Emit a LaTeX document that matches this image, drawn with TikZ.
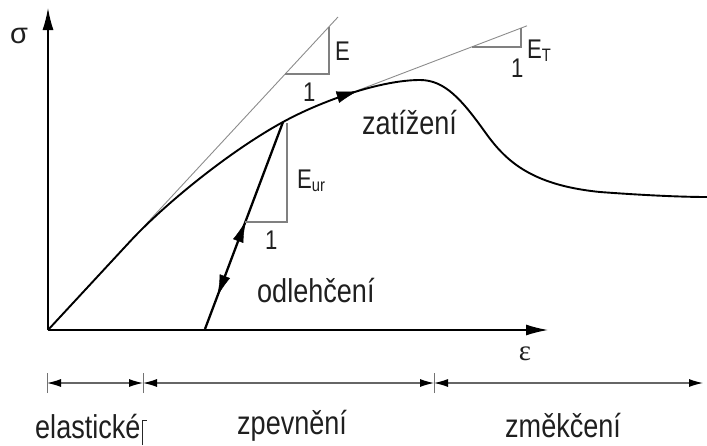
\documentclass[tikz,border=0pt]{standalone}
\usepackage{fontspec}
\setmainfont{Liberation Sans}
\newfontfamily\serifgr{Liberation Serif}
\usetikzlibrary{arrows.meta,decorations.markings}
\newcommand{\narrowtxt}[1]{\scalebox{0.82}[1]{#1}}
\begin{document}
\begin{tikzpicture}[x=1pt,y=-1pt,
  axis/.style={line width=1.4pt, black, -{Latex[length=22pt,width=11pt]}},
  curve/.style={line width=1.9pt, black},
  unload/.style={line width=2.3pt, black},
  tang/.style={line width=0.9pt, black!45},
  tri/.style={line width=1.1pt, black!50},
  dim/.style={line width=1.1pt, black!60, {Latex[length=14pt,width=8pt,black]}-{Latex[length=14pt,width=8pt,black]}},
  dimtick/.style={line width=1pt, black!55},
  big/.style={font=\fontsize{33}{35}\selectfont, text=black!88, inner sep=0pt, anchor=base west},
  small/.style={font=\fontsize{27}{29}\selectfont, text=black!88, inner sep=0pt, anchor=base west},
  arrowmark/.style={decorate, decoration={markings, #1}}]

\useasboundingbox (0,0) rectangle (707,445);

% axes
\coordinate (O) at (48,330);
\coordinate (Ytop) at (48,8);
\coordinate (Xend) at (548,330);
\draw[axis] (O) -- (Ytop);
\draw[axis] (O) -- (Xend);

% elastic tangent and triangle
\coordinate (Etop) at (338,17);
\draw[tang] (O) -- (Etop);
\draw[tri] (285.3,74) -- (329,74) -- (329,26.8);

% tangent E_T and triangle
\coordinate (Ta) at (340,97.2);
\coordinate (Tb) at (527,25.8);
\draw[tang] (Ta) -- (Tb);
\draw[tri] (471.5,47) -- (521,47) -- (521,28.1);

% loading curve
\coordinate (U) at (283,122);
\coordinate (Pk) at (420,80);
\draw[curve] (O) -- (130,241.5) .. controls (165,203.7) and (230,151) .. (U)
  .. controls (320,101.6) and (380,80) .. (Pk)
  .. controls (445,80) and (462,100) .. (485,132)
  .. controls (505,160) and (530,185) .. (600,192)
  .. controls (640,195) and (680,197) .. (707,197);
\path[arrowmark={mark=at position 0.56 with {\arrow{Latex[length=21pt,width=12pt]}}}]
  (U) .. controls (320,101.6) and (380,80) .. (Pk);

% unloading / reloading line
\coordinate (B) at (205,329);
\draw[unload] (U) -- (B);
\path[arrowmark={mark=at position 0.48 with {\arrowreversed{Latex[length=21pt,width=11pt]}},
                 mark=at position 0.84 with {\arrow{Latex[length=21pt,width=11pt]}}}] (U) -- (B);
\draw[tri] (287,123) -- (287,222) -- (245.3,222);

% labels on graph
\node[font=\fontsize{29}{31}\selectfont, text=black!88] (sig) at (19,36) {σ};
\node[font=\serifgr\fontsize{29}{31}\selectfont, text=black!88] (eps) at (525,354) {ε};
\node[small] (lE) at (335,60) {\narrowtxt{E}};
\node[small] (l1a) at (303,101) {\narrowtxt{1}};
\node[small] (lEur) at (297,188) {\narrowtxt{E{\fontsize{18}{18}\selectfont\raisebox{-3pt}{ur}}}};
\node[small] (l1b) at (265,249) {\narrowtxt{1}};
\node[small] (lET) at (527,58) {\narrowtxt{E{\fontsize{18}{18}\selectfont\raisebox{-3pt}{T}}}};
\node[small] (l1c) at (511,77) {\narrowtxt{1}};
\node[big] (zat) at (362,134) {\narrowtxt{zatížení}};
\node[big] (odl) at (257,302) {\narrowtxt{odlehčení}};

% dimension line
\coordinate (D0) at (47,383);
\coordinate (D1) at (143,383);
\coordinate (D2) at (434,383);
\coordinate (D3) at (703,383);
\draw[dim] (D0) -- (D1);
\draw[dim] (D1) -- (D2);
\draw[dim] (D2) -- (D3);
\foreach \p in {D0,D1,D2} \draw[dimtick] ([yshift=-10pt]\p) -- ([yshift=10pt]\p);

\node[big] (ela) at (35,438) {\narrowtxt{elastické}};
\draw[line width=1pt, black!85] (142,445) -- (142,420) -- (147,420);
\node[big] (zpe) at (237,434) {\narrowtxt{zpevnění}};
\node[big] (zme) at (505,437) {\narrowtxt{změkčení}};
\end{tikzpicture}
\end{document}
